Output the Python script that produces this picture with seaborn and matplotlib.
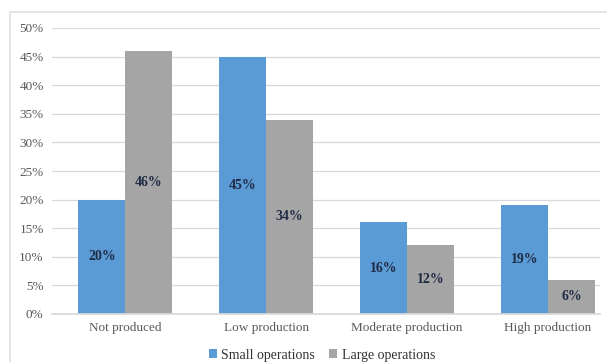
import matplotlib
import pandas as pd
import seaborn as sns

matplotlib.use("Agg")
import matplotlib.pyplot as plt
from matplotlib.lines import Line2D
from matplotlib.ticker import FuncFormatter


CATEGORIES = ["Not produced", "Low production", "Moderate production", "High production"]
SMALL_OPS = [20, 45, 16, 19]
LARGE_OPS = [46, 34, 12, 6]
GROUPS = ["Small operations", "Large operations"]
COLORS = ["#5B9BD5", "#A5A5A5"]


def main() -> None:
    sns.set_theme(style="white")
    plt.rcParams["font.family"] = ["Liberation Serif", "DejaVu Serif"]

    df = pd.DataFrame(
        {
            "category": CATEGORIES * 2,
            "value": SMALL_OPS + LARGE_OPS,
            "group": [GROUPS[0]] * 4 + [GROUPS[1]] * 4,
        }
    )

    fig = plt.figure(figsize=(6.07, 3.62), dpi=100)
    # chart frame: only left and top edges are visible in the crop
    x0, y0 = 9.5 / 607, 1 - 12 / 362
    fig.lines.append(Line2D([x0, x0], [0, y0], transform=fig.transFigure, color="#E0E0E0", linewidth=1.2))
    fig.lines.append(Line2D([x0, 1], [y0, y0], transform=fig.transFigure, color="#E0E0E0", linewidth=1.2))

    ax = fig.add_axes([52 / 607, 48 / 362, 548 / 607, 286 / 362])

    sns.barplot(
        data=df, x="category", y="value", hue="group", order=CATEGORIES,
        hue_order=GROUPS, palette=COLORS, saturation=1, width=0.667, ax=ax,
        linewidth=0, edgecolor="none",
    )

    for container in ax.containers:
        ax.bar_label(
            container, labels=[f"{int(b.get_height())}%" for b in container],
            label_type="center", fontsize=10, fontweight="bold", color="#1F2A44",
        )

    ax.set_ylim(0, 50)
    ax.set_yticks(range(0, 51, 5))
    ax.yaxis.set_major_formatter(FuncFormatter(lambda v, _: f"{int(v)}%"))
    ax.set_xlim(-0.52, 3.37)
    ax.grid(axis="y", color="#D9D9D9", linewidth=0.9)
    ax.set_axisbelow(True)
    for side in ["left", "right", "top"]:
        ax.spines[side].set_visible(False)
    ax.spines["bottom"].set_color("#D9D9D9")
    ax.tick_params(axis="both", length=0, labelsize=9.5, colors="#595959", pad=6)
    ax.set_xlabel("")
    ax.set_ylabel("")

    ax.legend(
        loc="center", bbox_to_anchor=(322 / 607, 1 - 355 / 362), bbox_transform=fig.transFigure,
        ncol=2, frameon=False, fontsize=10, handlelength=0.6, handleheight=0.6,
        handletextpad=0.3, columnspacing=1.0, labelcolor="#333333", borderpad=0,
    )

    fig.savefig("out.png", dpi=100)
    plt.close(fig)


if __name__ == "__main__":
    main()
